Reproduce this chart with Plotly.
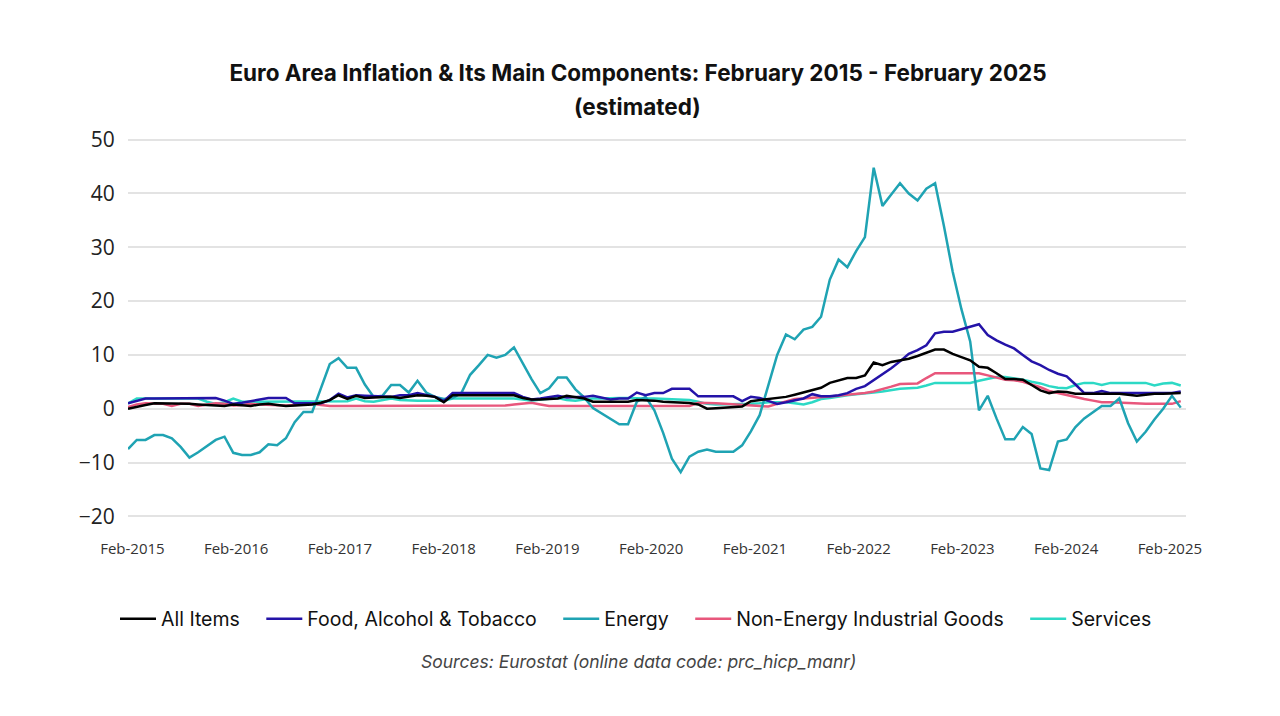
import plotly.graph_objects as go

# Monthly annual rates (%), Feb-2015 .. Feb-2025 (121 months)
all_items = [
    0.0, 0.4, 0.7, 1.0, 1.0, 1.0, 1.0, 0.9, 0.8, 0.7, 0.6, 0.5,
    0.8, 0.6, 0.5, 0.8, 0.9, 0.7, 0.5, 0.6, 0.7, 0.8, 1.1, 1.6,
    2.5, 1.8, 2.4, 2.0, 2.1, 2.2, 2.2, 2.0, 2.2, 2.5, 2.4, 2.2,
    1.2, 2.5, 2.5, 2.5, 2.5, 2.5, 2.5, 2.5, 2.5, 2.0, 1.7, 1.7,
    1.8, 1.9, 2.4, 2.1, 1.9, 1.3, 1.3, 1.3, 1.3, 1.3, 1.6, 1.6,
    1.5, 1.3, 1.2, 1.1, 1.05, 0.8, 0.0, 0.1, 0.2, 0.3, 0.4, 1.4,
    1.6, 1.8, 2.0, 2.2, 2.6, 3.0, 3.4, 3.9, 4.8, 5.3, 5.7, 5.7,
    6.2, 8.6, 8.1, 8.7, 9.0, 9.3, 9.8, 10.4, 11.0, 11.0, 10.2, 9.6,
    9.0, 7.8, 7.6, 6.6, 5.5, 5.5, 5.4, 4.4, 3.4, 2.9, 3.2, 3.1,
    2.8, 2.8, 2.8, 2.8, 2.8, 2.8, 2.6, 2.4, 2.6, 2.8, 2.8, 2.8,
    2.9,
]
food = [
    1.0, 1.5, 1.9, 1.9, 1.9, 1.9, 2.0, 2.0, 2.0, 2.0, 2.0, 1.5,
    0.9, 1.1, 1.4, 1.7, 2.0, 2.0, 2.0, 1.0, 1.0, 1.0, 1.0, 1.6,
    2.8, 2.1, 2.5, 2.4, 2.3, 2.3, 2.2, 2.5, 2.5, 2.9, 2.5, 2.2,
    1.4, 2.9, 2.9, 2.9, 2.9, 2.9, 2.9, 2.9, 2.9, 2.2, 1.7, 1.9,
    2.1, 2.4, 2.1, 2.1, 2.2, 2.4, 2.1, 1.7, 1.9, 1.9, 3.0, 2.5,
    2.9, 2.9, 3.7, 3.7, 3.7, 2.3, 2.3, 2.3, 2.3, 2.3, 1.4, 2.2,
    2.0, 1.4, 0.9, 1.2, 1.5, 1.9, 2.7, 2.3, 2.3, 2.5, 2.9, 3.7,
    4.2, 5.3, 6.3, 7.5, 8.8, 10.2, 10.9, 11.8, 14.0, 14.3, 14.3, 14.8,
    15.3, 15.7, 13.7, 12.7, 11.9, 11.2, 10.0, 8.8, 8.1, 7.2, 6.5, 6.0,
    4.5, 2.9, 2.9, 3.3, 2.9, 2.9, 2.9, 2.9, 2.9, 2.9, 2.9, 2.9,
    3.2,
]
energy = [
    -7.5, -5.8, -5.8, -4.9, -4.9, -5.5, -7.1, -9.1, -8.1, -7.0, -5.8, -5.2,
    -8.2, -8.6, -8.6, -8.1, -6.6, -6.8, -5.5, -2.5, -0.6, -0.6, 4.0, 8.3,
    9.4, 7.6, 7.6, 4.5, 2.2, 2.4, 4.4, 4.4, 3.0, 5.2, 3.0, 2.2,
    1.8, 2.0, 2.9, 6.3, 8.1, 10.0, 9.5, 10.0, 11.4, 8.3, 5.5, 2.9,
    3.8, 5.8, 5.8, 3.6, 2.1, 0.1, -0.9, -1.8, -2.9, -2.9, 1.3, 2.2,
    -0.3, -4.5, -9.3, -11.8, -8.9, -8.0, -7.6, -8.0, -8.0, -8.0, -6.8, -4.2,
    -1.2, 4.5, 10.0, 13.8, 12.9, 14.7, 15.2, 17.1, 24.0, 27.7, 26.3, 29.3,
    31.9, 44.8, 37.7, 39.8, 41.9, 40.0, 38.7, 40.9, 41.9, 34.0, 25.5, 18.5,
    12.5, -0.3, 2.4, -1.8, -5.7, -5.7, -3.4, -4.7, -11.1, -11.4, -6.1, -5.7,
    -3.4, -1.8, -0.6, 0.5, 0.5, 1.9, -2.7, -6.1, -4.3, -2.0, 0.0, 2.4,
    0.2,
]
non_energy_goods = [
    0.3, 0.8, 1.0, 1.0, 0.9, 0.5, 0.9, 0.9, 0.5, 0.8, 1.0, 0.9,
    0.6, 0.7, 0.9, 0.8, 0.7, 0.6, 0.6, 0.7, 0.8, 0.9, 0.7, 0.5,
    0.5, 0.5, 0.5, 0.5, 0.5, 0.5, 0.5, 0.5, 0.5, 0.5, 0.5, 0.5,
    0.5, 0.5, 0.5, 0.5, 0.5, 0.5, 0.5, 0.6, 0.8, 1.0, 1.1, 0.8,
    0.5, 0.5, 0.5, 0.5, 0.5, 0.5, 0.5, 0.5, 0.5, 0.5, 0.5, 0.5,
    0.5, 0.5, 0.5, 0.5, 0.5, 1.1, 1.1, 1.0, 0.9, 0.8, 0.7, 0.5,
    0.4, 0.4, 0.9, 1.4, 1.8, 1.9, 2.0, 2.1, 2.2, 2.4, 2.6, 2.7,
    2.9, 3.2, 3.6, 4.1, 4.6, 4.7, 4.7, 5.7, 6.6, 6.6, 6.6, 6.6,
    6.6, 6.6, 6.2, 5.8, 5.4, 5.3, 5.0, 4.5, 4.0, 3.3, 2.9, 2.6,
    2.1, 1.8, 1.5, 1.2, 1.2, 1.1, 1.0, 0.9, 0.9, 0.9, 0.9, 0.9,
    1.4,
]
services = [
    1.0, 1.9, 1.9, 1.9, 1.9, 1.9, 1.9, 1.9, 1.9, 1.3, 0.9, 1.2,
    1.9, 1.3, 1.3, 1.3, 1.3, 1.3, 1.3, 1.3, 1.3, 1.3, 1.3, 1.3,
    1.3, 1.4, 1.9, 1.4, 1.3, 1.6, 1.9, 1.6, 1.5, 1.5, 1.5, 1.5,
    1.5, 1.9, 1.9, 1.9, 1.9, 1.9, 1.9, 1.9, 1.9, 1.7, 1.5, 1.7,
    1.9, 2.0, 1.6, 1.5, 1.7, 1.9, 1.9, 2.0, 2.0, 2.0, 1.9, 1.9,
    1.9, 1.8, 1.7, 1.6, 1.6, 1.3, 0.9, 0.8, 0.8, 0.8, 0.9, 0.9,
    1.0, 1.2, 1.2, 1.2, 1.0, 0.8, 1.2, 1.8, 2.0, 2.3, 2.5, 2.7,
    2.8, 3.0, 3.2, 3.5, 3.7, 3.8, 3.9, 4.3, 4.8, 4.8, 4.8, 4.8,
    4.8, 5.2, 5.6, 5.9, 5.9, 5.7, 5.4, 5.0, 4.7, 4.2, 3.9, 3.8,
    4.4, 4.8, 4.8, 4.4, 4.8, 4.8, 4.8, 4.8, 4.8, 4.3, 4.7, 4.8,
    4.3,
]

tick_labels = ["Feb-2015", "Feb-2016", "Feb-2017", "Feb-2018", "Feb-2019", "Feb-2020",
               "Feb-2021", "Feb-2022", "Feb-2023", "Feb-2024", "Feb-2025"]
y_ticks = [-20, -10, 0, 10, 20, 30, 40, 50]

series = [
    ("All Items", all_items, "#000000"),
    ("Food, Alcohol & Tobacco", food, "#2413A8"),
    ("Energy", energy, "#1FA3B3"),
    ("Non-Energy Industrial Goods", non_energy_goods, "#E8577C"),
    ("Services", services, "#2CD9C5"),
]

# page offset of the default 8px body margin
OFF = 8
PLOT_TOP, PLOT_BOTTOM, PLOT_LEFT, PLOT_RIGHT = 137.3 - OFF, 518.7 - OFF, 128 - OFF, 1186 - OFF
PH = PLOT_BOTTOM - PLOT_TOP
PW = PLOT_RIGHT - PLOT_LEFT
GAP = "\u00a0\u00a0\u00a0"

months = list(range(len(all_items)))
fig = go.Figure()
for rank, (name, vals, color) in reversed(list(enumerate(series))):
    label = name if rank == len(series) - 1 else name + GAP
    fig.add_trace(go.Scatter(x=months, y=vals, mode="lines", name=label,
                             line=dict(color=color, width=2.5), legendrank=rank + 1))

# tick labels are spread slightly tighter than the yearly spacing in the original chart
n_ticks = len(tick_labels)
span = (len(months) - 1) * 0.9855
tick_pos = [0.5 + k * span / (n_ticks - 1) for k in range(n_ticks)]

fig.update_layout(
    width=1280, height=716,
    paper_bgcolor="white", plot_bgcolor="white",
    margin=dict(l=PLOT_LEFT, r=1280 - PLOT_RIGHT, t=PLOT_TOP, b=716 - PLOT_BOTTOM),
    font=dict(family="Inter, Open Sans, sans-serif", color="#222"),
    title=dict(text="<b>Euro Area Inflation & Its Main Components: February 2015 - February 2025</b>",
               x=(638 - OFF) / 1280, xref="container", xanchor="center",
               y=1 - (73 - OFF) / 716, yref="container", yanchor="middle",
               font=dict(size=22.5, color="#111", family="Inter, sans-serif")),
    showlegend=True,
    legend=dict(orientation="h", xref="container", yref="container",
                x=(636 - OFF) / 1280, xanchor="center", y=1 - (619 - OFF) / 716, yanchor="middle",
                font=dict(size=19.5, color="#111", family="Inter, sans-serif"),
                itemwidth=36, traceorder="normal"),
    xaxis=dict(range=[0, 120.6], tickmode="array", tickvals=tick_pos, ticktext=tick_labels,
               showgrid=False, zeroline=False, showline=False,
               tickfont=dict(size=15, color="#333", family="Open Sans, sans-serif"),
               ticks="outside", ticklen=16, tickcolor="rgba(0,0,0,0)"),
    yaxis=dict(range=[-20.5, 50.5], tickmode="array", tickvals=y_ticks,
               showgrid=True, gridcolor="#E3E3E3", gridwidth=2,
               zeroline=False, showline=False,
               tickfont=dict(size=21, color="#222", family="Open Sans, sans-serif"),
               ticks="outside", ticklen=8, tickcolor="rgba(0,0,0,0)"),
    annotations=[
        dict(text="<b>(estimated)</b>", xref="paper", yref="paper",
             x=(637 - OFF - PLOT_LEFT) / PW, y=(PLOT_BOTTOM - (107 - OFF)) / PH,
             xanchor="center", yanchor="middle",
             showarrow=False, font=dict(size=22.5, color="#111", family="Inter, sans-serif")),
        dict(text="<i>Sources: Eurostat (online data code: prc_hicp_manr)</i>", xref="paper", yref="paper",
             x=(638 - OFF - PLOT_LEFT) / PW, y=(PLOT_BOTTOM - (661 - OFF)) / PH,
             xanchor="center", yanchor="middle",
             showarrow=False, font=dict(size=17.5, color="#444", family="Inter, sans-serif")),
    ],
)

fig.write_html("out.html")
